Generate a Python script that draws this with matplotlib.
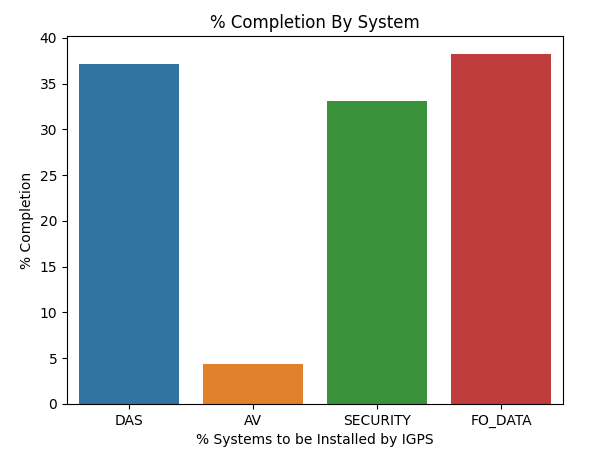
import matplotlib
matplotlib.use("Agg")
import matplotlib.pyplot as plt
import seaborn as sns
import pandas as pd

systems = ["DAS", "AV", "SECURITY", "FO_DATA"]
completion = [37.2, 4.35, 33.1, 38.3]

df = pd.DataFrame({"system": systems, "completion": completion})

fig = plt.figure(figsize=(6.02, 4.57), dpi=100)
ax = fig.add_axes([0.1113, 0.116, 0.8239, 0.8052])
sns.barplot(data=df, x="system", y="completion", hue="system",
            palette="tab10", saturation=0.75, legend=False, ax=ax)
ax.set_title("% Completion By System")
ax.set_xlabel("% Systems to be Installed by IGPS")
ax.set_ylabel("% Completion")

fig.savefig("out.png", dpi=100)
